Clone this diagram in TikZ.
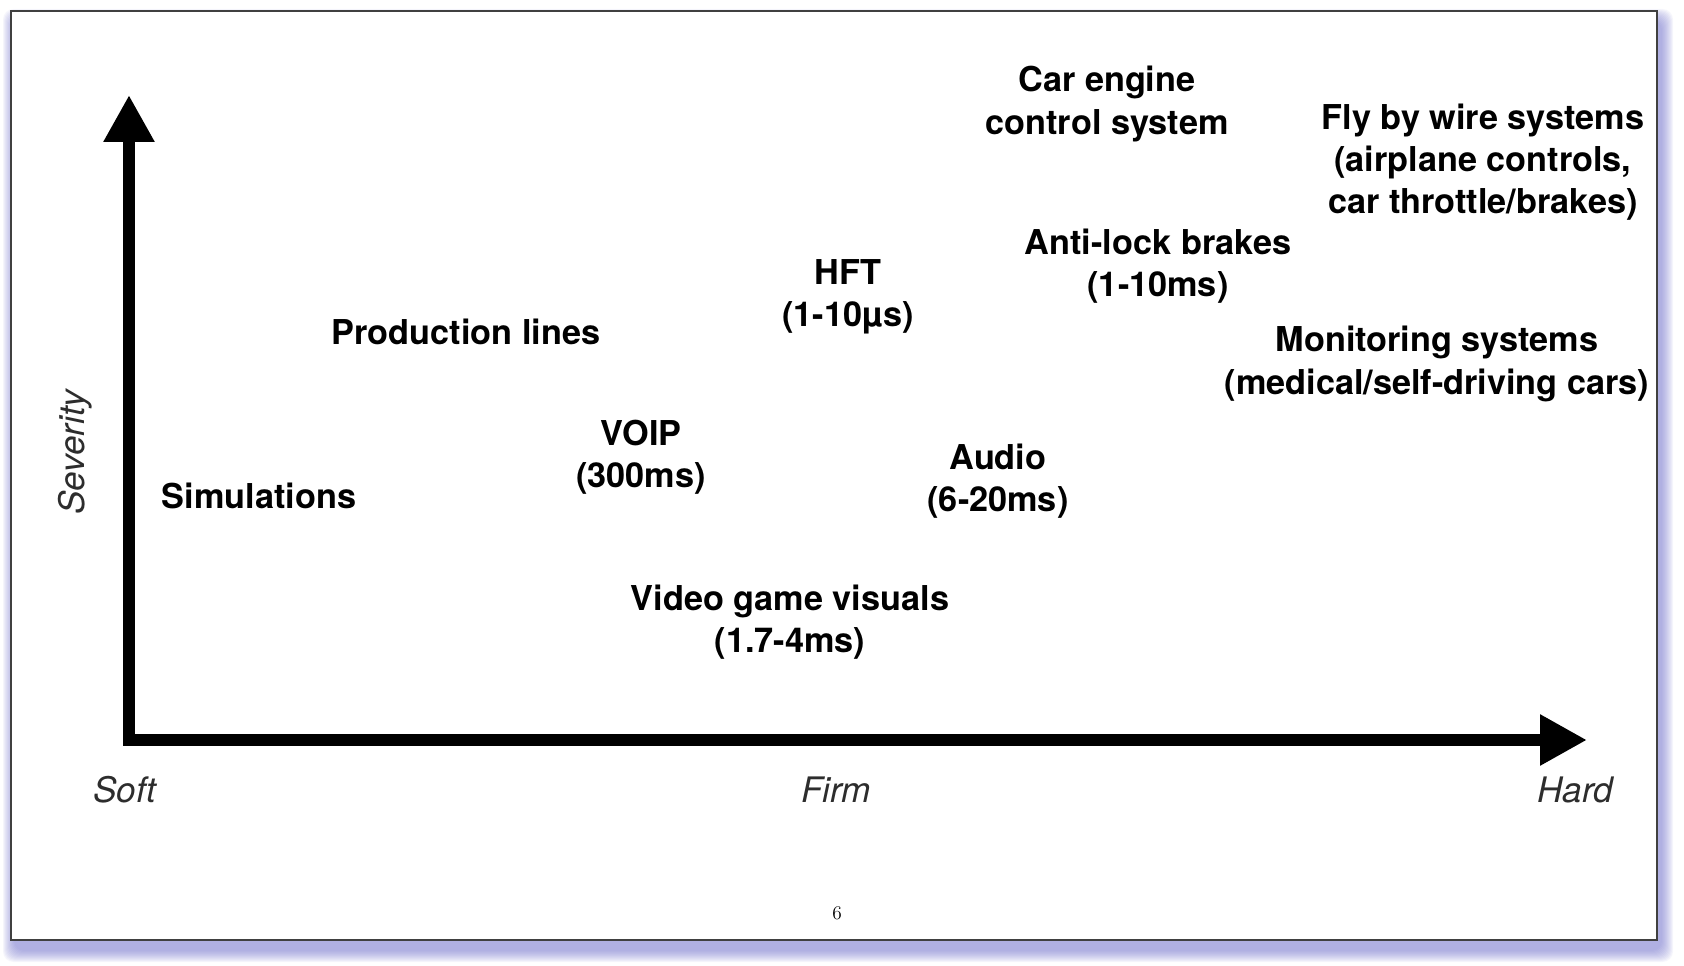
\documentclass[tikz,border=0pt]{standalone}
\usepackage{fontspec}
\setsansfont{TeX Gyre Heros}
\usetikzlibrary{arrows.meta}
\definecolor{shadowblue}{RGB}{120,120,205}
\definecolor{labelgray}{RGB}{45,45,45}
\begin{document}
\begin{tikzpicture}[x=0.02cm,y=-0.02cm,
  lbl/.style={font=\sffamily\bfseries\fontsize{19.5}{24}\selectfont, align=center, inner sep=0pt},
  axlbl/.style={font=\sffamily\itshape\fontsize{20}{24}\selectfont, text=labelgray, inner sep=0pt},
  axisline/.style={line width=0.24cm, line join=miter, -{Triangle[length=0.94cm,width=0.96cm]}}]
\useasboundingbox (0,0) rectangle (1684,966);
% page shadow
\foreach \i in {1,...,12}{
  \fill[shadowblue, opacity=0.07, rounded corners=6] (11+4-\i,11+10-\i) rectangle (1657+4+\i,940+10+\i);
}
% page
\draw[black!75, line width=0.03cm, fill=white] (11,11) rectangle (1657,940);
% axes
\coordinate (ytip) at (129,95);
\coordinate (origin) at (129,740);
\coordinate (xtip) at (1587,740);
\draw[axisline] (origin) -- (ytip);
\draw[axisline] ([xshift=-0.12cm]origin) -- (xtip);
% axis labels
\node[axlbl, rotate=90] (sev) at (75,452) {Severity};
\node[axlbl] (soft) at (125,790) {Soft};
\node[axlbl] (firm) at (836,790) {Firm};
\node[axlbl] (hard) at (1575,790) {Hard};
% items
\node[lbl] (car) at (1107,104) {Car engine\\control system};
\node[lbl] (fly) at (1483,162) {Fly by wire systems\\(airplane controls,\\car throttle/brakes)};
\node[lbl] (abs) at (1158,266) {Anti-lock brakes\\(1-10ms)};
\node[lbl] (hft) at (848,297) {HFT\\(1-10µs)};
\node[lbl] (prod) at (466,332) {Production lines};
\node[lbl] (mon) at (1437,364) {Monitoring systems\\(medical/self-driving cars)};
\node[lbl] (voip) at (641,457) {VOIP\\(300ms)};
\node[lbl] (audio) at (998,481) {Audio\\(6-20ms)};
\node[lbl] (sim) at (259,496) {Simulations};
\node[lbl] (video) at (790,622) {Video game visuals\\(1.7-4ms)};
% page number
\node[font=\fontsize{11}{13}\selectfont, inner sep=0pt] (pagenum) at (837,913) {6};
\end{tikzpicture}
\end{document}
